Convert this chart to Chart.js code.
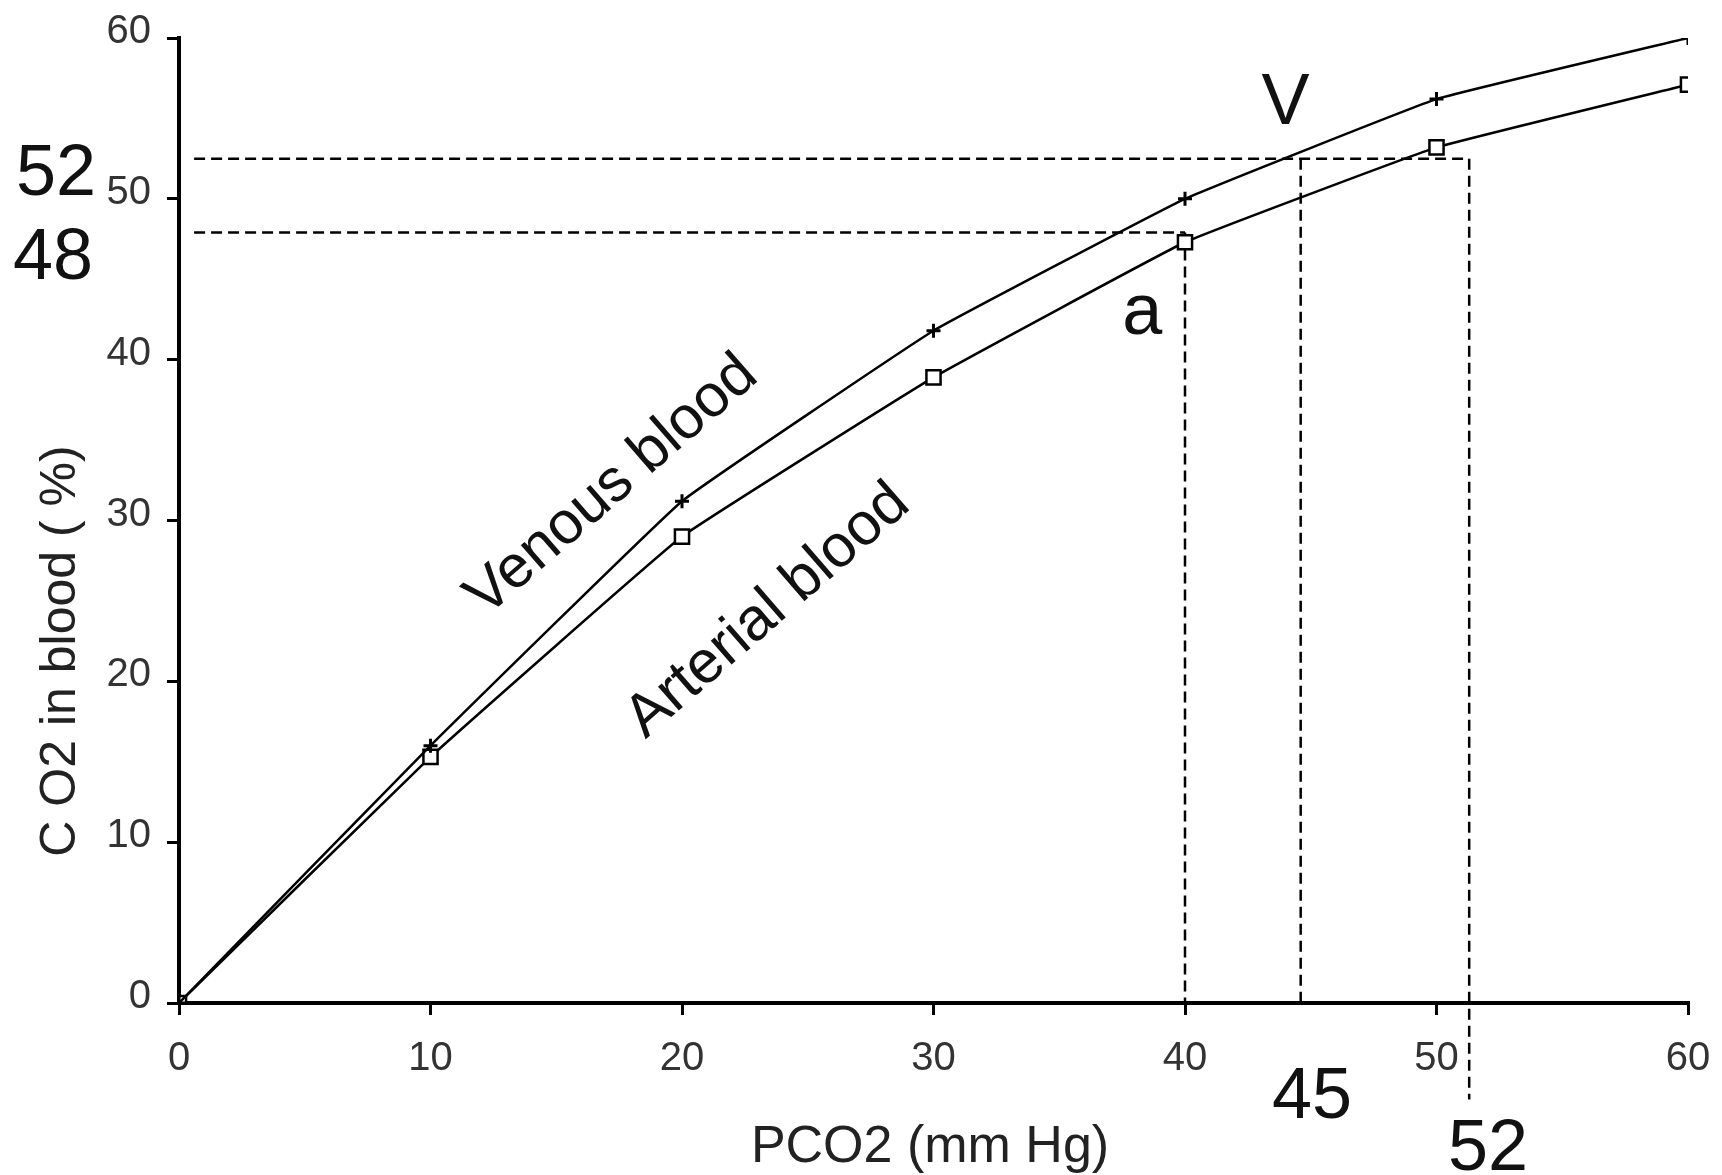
<!DOCTYPE html>
<html>
<head>
<meta charset="utf-8">
<script src="https://cdn.jsdelivr.net/npm/chart.js@4/dist/chart.umd.min.js"></script>
<style>
  html, body { margin: 0; padding: 0; background: #fff; }
  #wrap { width: 1722px; height: 1175px; }
</style>
</head>
<body>
<div id="wrap"><canvas id="myChart" width="1722" height="1175"></canvas></div>
<script>
// PCO2 (mm Hg) on the x axis
const pco2 = [0, 10, 20, 30, 40, 50, 60];
// CO2 content (%)
const venous = [0, 16, 31.2, 41.8, 50, 56.2, 60];
const arterial = [0, 15.3, 29, 38.9, 47.3, 53.2, 57.1];
const xTicks = [0, 10, 20, 30, 40, 50, 60];
const yTicks = [0, 10, 20, 30, 40, 50, 60];

// dashed read-off lines: [x1, y1, x2, y2]
const refVenousH = [0.6, 52.5, 51.2, 52.5];
const refArterialH = [0.6, 47.9, 40, 47.9];
const refAt40 = [40, 47.9, 40, 0];
const refAt45 = [44.6, 52.5, 44.6, 0];
const refAt52 = [51.3, 52.5, 51.3, -6];

function pts(xs, ys) {
    return xs.map(function(x, i) { return {x: x, y: ys[i]}; });
}
function seg(r) {
    return [{x: r[0], y: r[1]}, {x: r[2], y: r[3]}];
}
function refSet(r) {
    return {
        data: seg(r),
        borderColor: '#000',
        borderWidth: 2.5,
        borderDash: [11, 6],
        pointRadius: 0,
        clip: false,
        order: 3
    };
}

const FONT = '"Liberation Sans", Arial, sans-serif';

// texts drawn on top of the chart
const notes = {
    id: 'notes',
    afterDraw(chart) {
        const ctx = chart.ctx;
        const xs = chart.scales.x;
        ctx.save();
        ctx.fillStyle = '#111';
        ctx.textAlign = 'center';
        ctx.textBaseline = 'middle';
        ctx.font = '72px ' + FONT;
        ctx.fillText('52', 56, 175);
        ctx.fillText('48', 53, 259);
        ctx.fillText('45', xs.getPixelForValue(45.05), 1098);
        ctx.fillText('52', xs.getPixelForValue(52.05), 1150);
        ctx.fillText('V', xs.getPixelForValue(44), 104);
        ctx.fillText('a', xs.getPixelForValue(38.3), 314);

        // curve names
        ctx.font = '60px ' + FONT;
        ctx.save();
        ctx.translate(612, 486);
        ctx.rotate(-41 * Math.PI / 180);
        ctx.fillText('Venous blood', 0, 0);
        ctx.restore();
        ctx.save();
        ctx.translate(768, 611);
        ctx.rotate(-41 * Math.PI / 180);
        ctx.fillText('Arterial blood', 0, 0);
        ctx.restore();

        // axis titles
        ctx.fillStyle = '#222';
        ctx.font = '52px ' + FONT;
        ctx.fillText('PCO2 (mm Hg)', 930, 1148);
        ctx.font = '50px ' + FONT;
        ctx.save();
        ctx.translate(61, 651);
        ctx.rotate(-Math.PI / 2);
        ctx.fillText('C O2 in blood ( %)', 0, 0);
        ctx.restore();
        ctx.restore();
    }
};

function createChart() {
    var ctx = document.getElementById('myChart').getContext('2d');
    var myChart = new Chart(ctx, {
        type: 'line',
        data: {
            datasets: [{
                label: 'Venous blood',
                data: pts(pco2, venous),
                borderColor: '#000',
                borderWidth: 2.5,
                tension: 0.08,
                pointStyle: 'cross',
                pointRadius: 7,
                pointBorderWidth: 3,
                pointBorderColor: '#000',
                order: 1
            }, {
                label: 'Arterial blood',
                data: pts(pco2, arterial),
                borderColor: '#000',
                borderWidth: 2.5,
                tension: 0.08,
                pointStyle: 'rect',
                pointRadius: 10,
                pointBorderWidth: 2.5,
                pointBorderColor: '#000',
                pointBackgroundColor: '#fff',
                order: 2
            },
            refSet(refVenousH),
            refSet(refArterialH),
            refSet(refAt40),
            refSet(refAt45),
            refSet(refAt52)]
        },
        options: {
            responsive: false,
            animation: false,
            devicePixelRatio: 1,
            layout: { padding: { top: 38, right: 34, left: 0, bottom: 0 } },
            plugins: {
                legend: { display: false },
                tooltip: { enabled: false }
            },
            scales: {
                x: {
                    type: 'linear',
                    min: 0,
                    max: 60,
                    afterFit: function(s) { s.height = 172; s.paddingLeft = 0; s.paddingRight = 0; },
                    afterBuildTicks: function(s) { s.ticks = xTicks.map(function(v) { return {value: v}; }); },
                    border: { display: true, color: '#000', width: 4 },
                    grid: { drawOnChartArea: false, color: '#000', lineWidth: 3, tickLength: 12 },
                    ticks: { color: '#333', padding: 20, font: { family: FONT, size: 40 } }
                },
                y: {
                    type: 'linear',
                    min: 0,
                    max: 60,
                    afterFit: function(s) { s.width = 179; s.paddingTop = 0; s.paddingBottom = 0; },
                    afterBuildTicks: function(s) { s.ticks = yTicks.map(function(v) { return {value: v}; }); },
                    border: { display: true, color: '#000', width: 4 },
                    grid: { drawOnChartArea: false, color: '#000', lineWidth: 3, tickLength: 12 },
                    ticks: { color: '#333', padding: 16, labelOffset: -6, font: { family: FONT, size: 40 } }
                }
            }
        },
        plugins: [notes]
    });
}

document.addEventListener('DOMContentLoaded', function() {
    createChart();
});
</script>
</body>
</html>
